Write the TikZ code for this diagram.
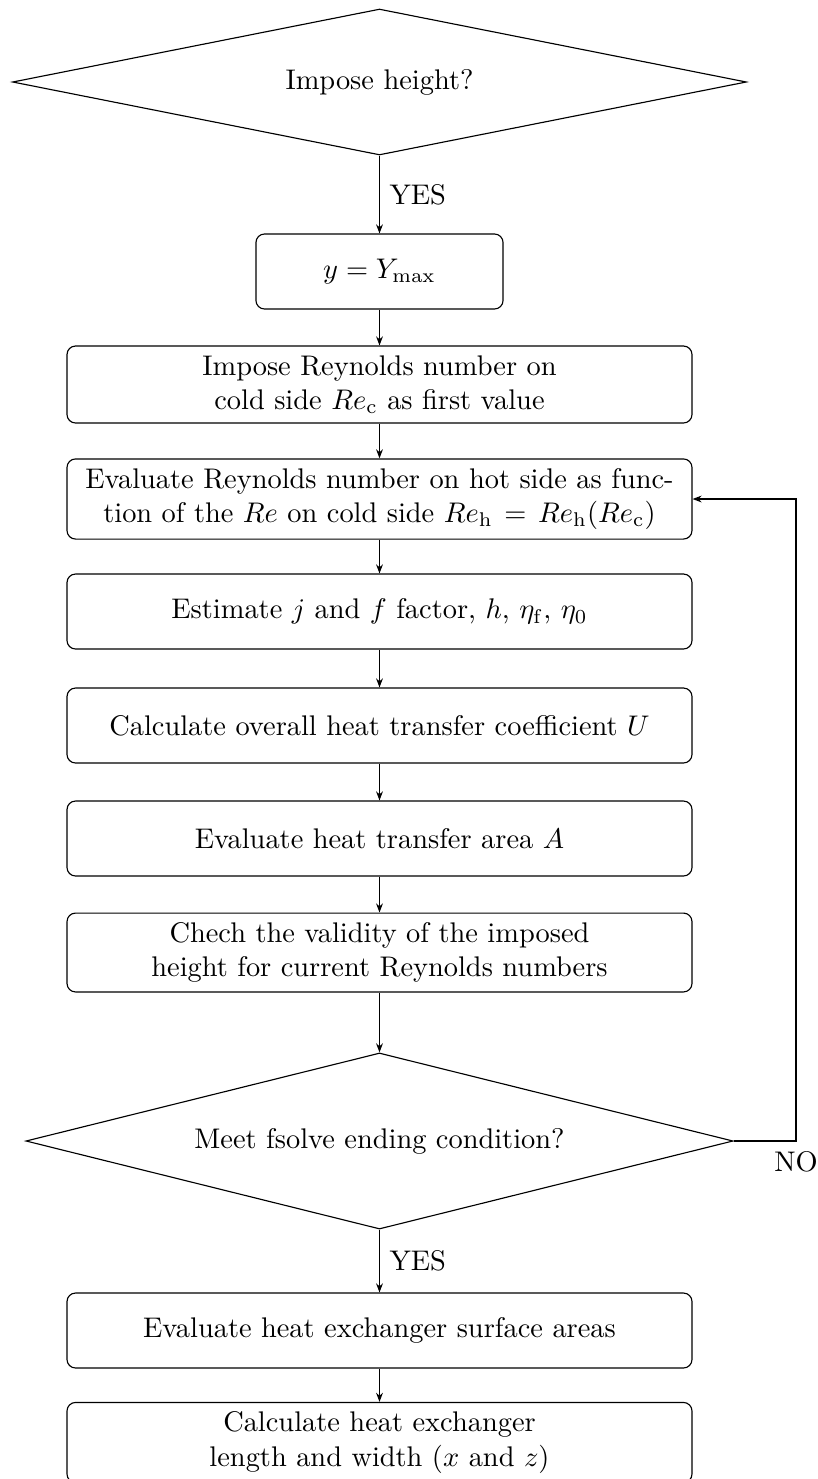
\documentclass[tikz,border=0pt]{standalone}
\usetikzlibrary{shapes.geometric,arrows.meta}
\tikzset{
  procbox/.style={draw, rectangle, rounded corners=3pt, text width=7.5cm, align=center, minimum height=26.4pt},
  smallbox/.style={draw, rectangle, rounded corners=3pt, minimum width=87pt, minimum height=26.4pt},
  decision/.style={draw, diamond, inner sep=0pt, align=center},
  arr/.style={-{Stealth[length=3.2pt,width=2.4pt]}, line width=0.4pt},
}
\begin{document}
\begin{tikzpicture}[x=0.35211pt, y=-0.35211pt]
\useasboundingbox (0,0) rectangle (818,1479);
\node[decision, aspect=5, minimum width=258.4pt, minimum height=51.4pt] (d1) at (379.5,82) {Impose height?};
\node[smallbox] (yb) at (379.5,271.5) {$y = Y_\mathrm{max}$};
\node[procbox] (r1) at (379.5,384.5) {Impose Reynolds number on\\cold side $Re_\mathrm{c}$ as first value};
\node[procbox] (r2) at (379.5,499) {Evaluate Reynolds number on hot side as func-\\tion of the $Re$ on cold side $Re_\mathrm{h} = Re_\mathrm{h}(Re_\mathrm{c})$};
\node[procbox] (est) at (379.5,611.5) {Estimate $j$ and $f$ factor, $h$, $\eta_\mathrm{f}$, $\eta_0$};
\node[procbox] (calU) at (379.5,725.5) {Calculate overall heat transfer coefficient $U$};
\node[procbox] (evA) at (379.5,838.5) {Evaluate heat transfer area $A$};
\node[procbox] (chk) at (379.5,952.5) {Chech the validity of the imposed\\height for current Reynolds numbers};
\node[decision, aspect=4, minimum width=249pt, minimum height=62pt] (d2) at (379.5,1141) {Meet fsolve ending condition?};
\node[procbox] (surf) at (379.5,1330.5) {Evaluate heat exchanger surface areas};
\node[procbox] (fin) at (379.5,1442.5) {Calculate heat exchanger\\length and width ($x$ and $z$)};
\coordinate (loop) at (796,1141);
\draw[arr] (d1.south) -- node[right]{YES} (yb.north);
\draw[arr] (yb) -- (r1);
\draw[arr] (r1) -- (r2);
\draw[arr] (r2) -- (est);
\draw[arr] (est) -- (calU);
\draw[arr] (calU) -- (evA);
\draw[arr] (evA) -- (chk);
\draw[arr] (chk.south) -- (d2.north);
\draw[arr] (d2.south) -- node[right]{YES} (surf.north);
\draw[arr] (surf) -- (fin);
\draw[arr] (d2.east) -- (loop) node[below]{NO} |- (r2.east);
\end{tikzpicture}
\end{document}
